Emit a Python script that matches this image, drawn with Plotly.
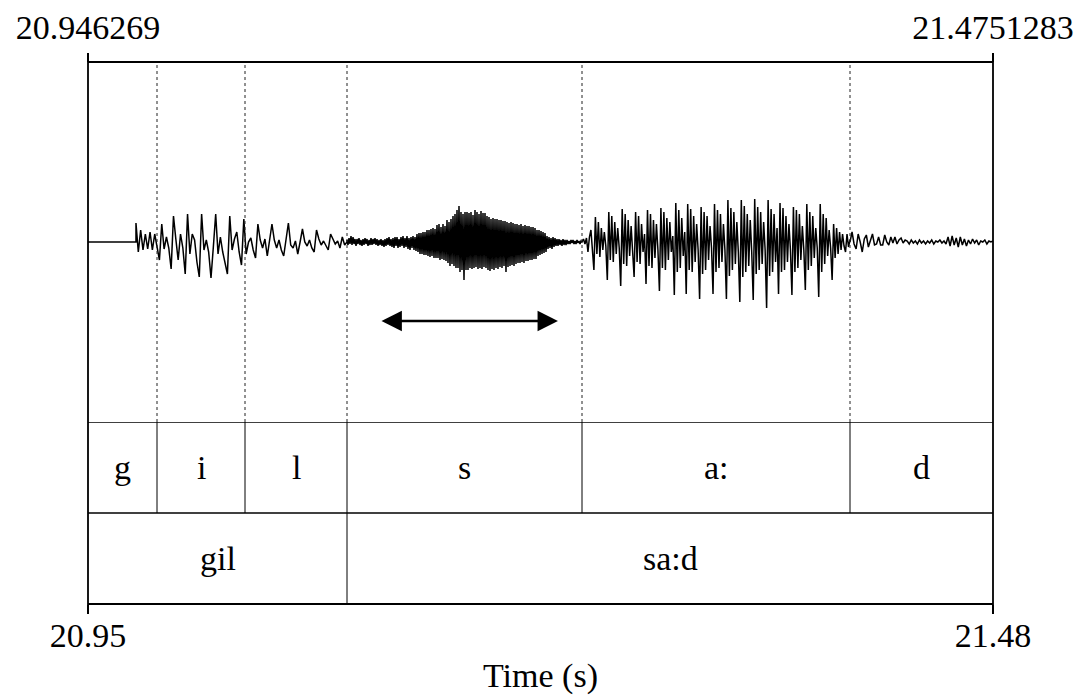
import numpy as np
import plotly.graph_objects as go

# Time window of the excerpt (s)
T_START = 20.946269
T_END = 21.4751283
VOICE_ONSET = 20.9743

# TextGrid tiers
phone_bounds = [20.946269, 20.98659, 21.03802, 21.09762, 21.23495, 21.39156, 21.4751283]
phone_labels = ["g", "i", "l", "s", "a:", "d"]
word_bounds = [20.946269, 21.09762, 21.4751283]
word_labels = ["gil", "sa:d"]

bottom_tick_text = ["20.95", "21.48"]
top_tick_text = ["20.946269", "21.4751283"]

# Duration marker under the frication noise
arrow_span = [21.1169, 21.2209]
arrow_level = -79

# Waveform amplitudes (arbitrary units), evenly sampled within each stretch
wave_silence = [0, 0, 0]

wave_gil = [
    19, -10, 12, -8, 8, -7, 10, -8, 8, -4,
    -18, 18, -7, 5, -6, -27, 26, 3, -18, 8,
    -6, -32, 28, -12, 8, 2, -20, -35, 28, -8,
    2, -10, -36, -5, 28, -12, 5, -10, -20, -32,
    26, -8, 3, 10, -10, -23, 23, -12, 0, 4,
    -8, -16, 18, 2, -6, 3, -14, 0, 18, 2,
    -6, 2, -8, -14, 4, 19, -3, -6, 1, -12,
    0, 13, 0, -4, 2, -6, -10, 12, 3, -3,
    1, -4, -8, 8, 2, -2, 1, -6, 5, -3,
    0,
]

wave_s = [
    2, -3, 4, -2, 6, -3, 5, -2, 3, -4,
    3, -2, 4, -3, 2, -4, 3, -3, 4, -2,
    3, -4, 2, -3, 4, -3, 3, -2, 4, -3,
    3, -4, 2, -3, 3, -4, 2, -5, 3, -4,
    4, -3, 5, -4, 3, -5, 4, -6, 5, -4,
    5, -6, 3, -5, 5, -4, 6, -6, 4, -5,
    6, -7, 4, -8, 5, -6, 6, -8, 5, -9,
    8, -10, 9, -12, 9, -12, 10, -13, 10, -13,
    12, -14, 12, -15, 13, -14, 14, -16, 13, -16,
    17, -16, 18, -18, 15, -17, 18, -18, 16, -19,
    22, -21, 20, -24, 23, -22, 26, -24, 28, -26,
    32, -26, 36, -30, 30, -28, 28, -38, 30, -28,
    30, -28, 29, -26, 30, -27, 27, -26, 32, -25,
    30, -27, 28, -26, 31, -27, 29, -25, 29, -26,
    26, -28, 25, -29, 23, -27, 24, -28, 23, -26,
    23, -27, 22, -25, 22, -26, 21, -24, 21, -30,
    20, -25, 19, -24, 20, -23, 19, -24, 18, -22,
    18, -21, 17, -21, 18, -20, 16, -21, 17, -19,
    16, -19, 16, -18, 15, -18, 15, -17, 14, -17,
    12, -14, 12, -13, 11, -12, 10, -11, 9, -10,
    6, -7, 5, -6, 4, -7, 5, -5, 4, -4,
    3, -4, 3, -3, 2, -4, 3, -3, 2, -3,
    2, -2, 1, -2, 2, -1, 2, -2, 1, -2,
    2, -1, 1, -2, 1, 0,
]

# one row per glottal cycle of the vowel
wave_a = [
    0, 3, -2, 4, -10, 5, 12, -6,
    -28, 25, -12, 20, -15, 14, -8, 10, -4,
    -38, 30, -18, 26, -20, 20, -12, 14, -6,
    -44, 33, -22, 28, -24, 22, -14, 16, -6,
    -35, 30, -20, 26, -22, 18, -10, 8,
    -42, 32, -24, 28, -26, 22, -16, 18, -8,
    -49, 34, -26, 30, -28, 24, -18, 20, -10, 6,
    -53, 39, -30, 32, -26, 24, -14, 10,
    -52, 38, -28, 33, -30, 26, -20, 18, -8,
    -57, 35, -32, 30, -28, 26, -18, 16, -6,
    -52, 38, -30, 32, -26, 28, -20, 18, -8,
    -57, 42, -34, 34, -28, 30, -22, 20, -10,
    -60, 42, -35, 36, -30, 28, -24, 22, -10,
    -58, 43, -32, 35, -28, 30, -22, 20, -8,
    -66, 42, -34, 33, -30, 28, -20, 14,
    -52, 39, -30, 34, -28, 26, -20, 18, -8,
    -53, 35, -30, 32, -26, 28, -18, 16, -8,
    -48, 38, -28, 30, -24, 26, -16, 14, -6,
    -55, 38, -30, 28, -22, 24, -14, 12, -6,
    -38, 18, -16, 14, -12, 10, -8, 8, -4,
    -10, 8, -5, 2,
]

wave_d = [
    0, 10, -2, -7, 8, 0, -10, 3, 7, -5,
    2, 8, -3, -2, 5, -3, -3, 7, 0, -3,
    5, -1, 5, -2, 2, 4, -1, 2, 1, -2,
    2, -1, 1, -2, 2, -1, 1, -2, 1, -1,
    2, -2, 1, 0, 2, -1, 1, -2, 5, -4,
    6, -3, 4, -5, 5, -3, 3, -4, 2, -2,
    3, -1, 2, -3, 1, 0, 2, -2, 1, 0,
    1,
]

stretches = [
    (T_START, VOICE_ONSET, wave_silence),
    (VOICE_ONSET, phone_bounds[3], wave_gil),
    (phone_bounds[3], phone_bounds[4], wave_s),
    (phone_bounds[4], phone_bounds[5], wave_a),
    (phone_bounds[5], T_END, wave_d),
]
wt, wy = [], []
for t0, t1, vals in stretches:
    wt.extend(np.linspace(t0, t1, len(vals)))
    wy.extend(vals)

SERIF = "Liberation Serif"
FS = 34
WAVE_BOTTOM = 182 / 542

fig = go.Figure()
fig.add_trace(go.Scatter(x=wt, y=wy, mode="lines", line=dict(color="black", width=1.5),
                         hoverinfo="skip", showlegend=False))
# empty trace so the top time axis is drawn
fig.add_trace(go.Scatter(x=[T_START, T_END], y=[None, None], xaxis="x2", yaxis="y",
                         showlegend=False, hoverinfo="skip"))

shapes = []
# outer frame and tier separators
shapes.append(dict(type="rect", xref="paper", yref="paper", x0=0, x1=1, y0=0, y1=1,
                   line=dict(color="black", width=1.8)))
for yv in (1, 2):
    shapes.append(dict(type="line", xref="paper", yref="y2", x0=0, x1=1, y0=yv, y1=yv,
                       line=dict(color="black", width=1.3)))
# phone boundaries: solid in the tier, dotted through the waveform
for b in phone_bounds[1:-1]:
    shapes.append(dict(type="line", xref="x", yref="y2", x0=b, x1=b, y0=1, y1=2,
                       line=dict(color="black", width=1)))
    shapes.append(dict(type="line", xref="x", yref="y", x0=b, x1=b, y0=-180, y1=180,
                       line=dict(color="#222222", width=1, dash="dot")))
for b in word_bounds[1:-1]:
    shapes.append(dict(type="line", xref="x", yref="y2", x0=b, x1=b, y0=0, y1=1,
                       line=dict(color="black", width=1)))

annotations = []
for i, lab in enumerate(phone_labels):
    annotations.append(dict(x=(phone_bounds[i] + phone_bounds[i + 1]) / 2, y=1.5,
                            xref="x", yref="y2", text=lab, showarrow=False,
                            font=dict(family=SERIF, size=FS, color="black")))
for i, lab in enumerate(word_labels):
    annotations.append(dict(x=(word_bounds[i] + word_bounds[i + 1]) / 2, y=0.5,
                            xref="x", yref="y2", text=lab, showarrow=False,
                            font=dict(family=SERIF, size=FS, color="black")))
annotations.append(dict(x=arrow_span[1], y=arrow_level, ax=arrow_span[0], ay=arrow_level,
                        xref="x", yref="y", axref="x", ayref="y", text="",
                        showarrow=True, arrowside="end+start", arrowhead=2, startarrowhead=2,
                        arrowsize=1.7, startarrowsize=1.7, arrowwidth=2.4, arrowcolor="black"))

tick_font = dict(family=SERIF, size=FS, color="black")
fig.update_layout(
    width=1080, height=695,
    margin=dict(l=88, r=87, t=62, b=91, autoexpand=False),
    paper_bgcolor="white", plot_bgcolor="white",
    font=dict(family=SERIF, size=FS, color="black"),
    xaxis=dict(range=[T_START, T_END], tickvals=[T_START, T_END], ticktext=bottom_tick_text,
               ticks="outside", ticklen=9, tickwidth=1.5, tickcolor="black",
               ticklabelstandoff=-8,
               showgrid=False, zeroline=False, showline=False, tickfont=tick_font,
               anchor="free", position=0, automargin=False,
               title=dict(text="Time (s)", font=tick_font, standoff=10)),
    xaxis2=dict(range=[T_START, T_END], tickvals=[T_START, T_END], ticktext=top_tick_text,
                overlaying="x", side="top", anchor="free", position=1, automargin=False,
                ticks="outside", ticklen=9, tickwidth=1.5, tickcolor="black",
                showgrid=False, zeroline=False, showline=False, tickfont=tick_font),
    yaxis=dict(domain=[WAVE_BOTTOM, 1], range=[-180, 180], visible=False),
    yaxis2=dict(domain=[0, WAVE_BOTTOM], range=[0, 2], visible=False),
    shapes=shapes,
    annotations=annotations,
    showlegend=False,
)

fig.write_html("out.html")
